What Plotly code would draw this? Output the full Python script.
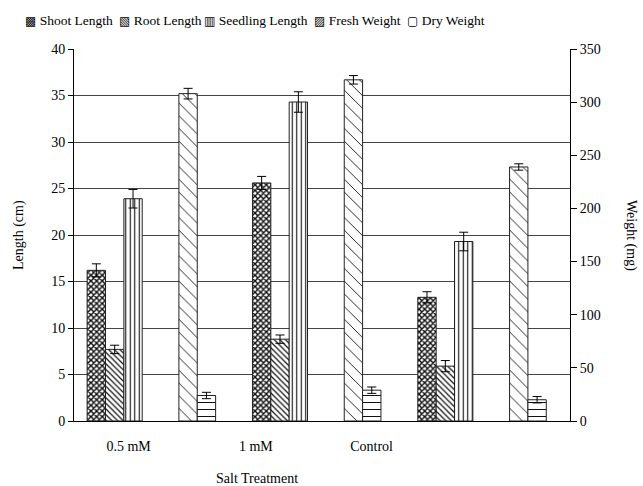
import numpy as np
import plotly.graph_objects as go

# Treatments and measured means with standard errors
treatments = ["0.5 mM", "1 mM", "Control"]

shoot_length = [16.2, 25.6, 13.3]
shoot_err = [0.7, 0.7, 0.6]
root_length = [7.7, 8.8, 5.9]
root_err = [0.45, 0.45, 0.6]
seedling_length = [23.9, 34.3, 19.3]
seedling_err = [1.0, 1.1, 1.0]
fresh_weight = [308, 321, 239]
fresh_err = [5, 4, 3]
dry_weight = [24, 29, 20]
dry_err = [3, 3, 3]

FONT = "Liberation Serif"

# Plot-area geometry in pixels (used to place the key above the plot)
W, H = 643, 486
M_L, M_R, M_T, M_B = 74, 73, 49, 65
PLOT_W = W - M_L - M_R
PLOT_H = H - M_T - M_B

# Bar slots inside each treatment group (in category units)
slot_w = 0.111
first_slot = 0.135
base = np.arange(len(treatments))


def slot_x(k):
    return base + first_slot + k * slot_w


series = [
    ("Shoot Length", shoot_length, shoot_err, 0, "y", dict(shape="x", size=4, solidity=0.6), "\u25A9"),
    ("Root Length", root_length, root_err, 1, "y", dict(shape="\\", size=4, solidity=0.3), "\u25A7"),
    ("Seedling Length", seedling_length, seedling_err, 2, "y", dict(shape="|", size=4.5, solidity=0.25), "\u25A5"),
    ("Fresh Weight", fresh_weight, fresh_err, 5, "y2", dict(shape="\\", size=9, solidity=0.1), "\u25A8"),
    ("Dry Weight", dry_weight, dry_err, 6, "y2", dict(shape="-", size=7, solidity=0.15), "\u25A2"),
]

fig = go.Figure()
for name, vals, errs, slot, axis, pat, _ in series:
    fig.add_trace(go.Bar(
        name=name,
        x=slot_x(slot),
        y=vals,
        width=slot_w,
        yaxis=axis,
        marker=dict(
            color="white",
            line=dict(color="#222222", width=1),
            pattern=dict(fgcolor="#111111", bgcolor="white", fillmode="replace", **pat),
        ),
        error_y=dict(type="data", array=errs, visible=True, color="black",
                     thickness=1, width=4.5),
    ))

tick_font = dict(family=FONT, size=14, color="black")


def px_x(px):
    return (px - M_L) / PLOT_W


def px_y(py):
    return (H - M_B - py) / PLOT_H


# Key drawn across the top: one symbol + label per series
key_left = [23, 117, 202, 312, 405]
annotations = []
for (name, *_rest, glyph), left in zip(series, key_left):
    annotations.append(dict(
        text=f'<span style="font-family:DejaVu Sans;font-size:12px">{glyph}</span>\u00a0{name}',
        xref="paper", yref="paper", x=px_x(left), y=px_y(20),
        xanchor="left", yanchor="middle", showarrow=False,
        font=dict(family=FONT, size=13.5, color="black"),
    ))

annotations += [
    dict(text="Length (cm)", xref="paper", yref="paper", x=px_x(19), y=0.5,
         xanchor="center", yanchor="middle", textangle=-90, showarrow=False,
         font=dict(family=FONT, size=14, color="black")),
    dict(text="Weight (mg)", xref="paper", yref="paper", x=px_x(631), y=0.5,
         xanchor="center", yanchor="middle", textangle=90, showarrow=False,
         font=dict(family=FONT, size=14, color="black")),
    dict(text="Salt Treatment", xref="paper", yref="paper", x=px_x(257), y=px_y(478),
         xanchor="center", yanchor="middle", showarrow=False,
         font=dict(family=FONT, size=14, color="black")),
]

fig.update_layout(
    width=W,
    height=H,
    margin=dict(l=M_L, r=M_R, t=M_T, b=M_B),
    paper_bgcolor="white",
    plot_bgcolor="white",
    barmode="overlay",
    font=dict(family=FONT, size=14, color="black"),
    showlegend=False,
    xaxis=dict(
        range=[0, 3],
        tickvals=[0.33, 1.1, 1.8],
        ticktext=treatments,
        ticks="",
        ticklabelstandoff=12,
        showgrid=False,
        zeroline=False,
        showline=True,
        linecolor="black",
        linewidth=1,
        tickfont=tick_font,
    ),
    yaxis=dict(
        range=[0, 40],
        dtick=5,
        ticks="outside",
        ticklen=5,
        tickcolor="black",
        showline=True,
        linecolor="black",
        linewidth=1,
        showgrid=True,
        gridcolor="#444444",
        gridwidth=1,
        zeroline=False,
        tickfont=tick_font,
    ),
    yaxis2=dict(
        range=[0, 350],
        dtick=50,
        overlaying="y",
        side="right",
        ticks="outside",
        ticklen=6,
        tickcolor="black",
        showline=True,
        linecolor="black",
        linewidth=1,
        showgrid=False,
        zeroline=False,
        tickfont=tick_font,
    ),
    annotations=annotations,
)

fig.write_html("out.html")
